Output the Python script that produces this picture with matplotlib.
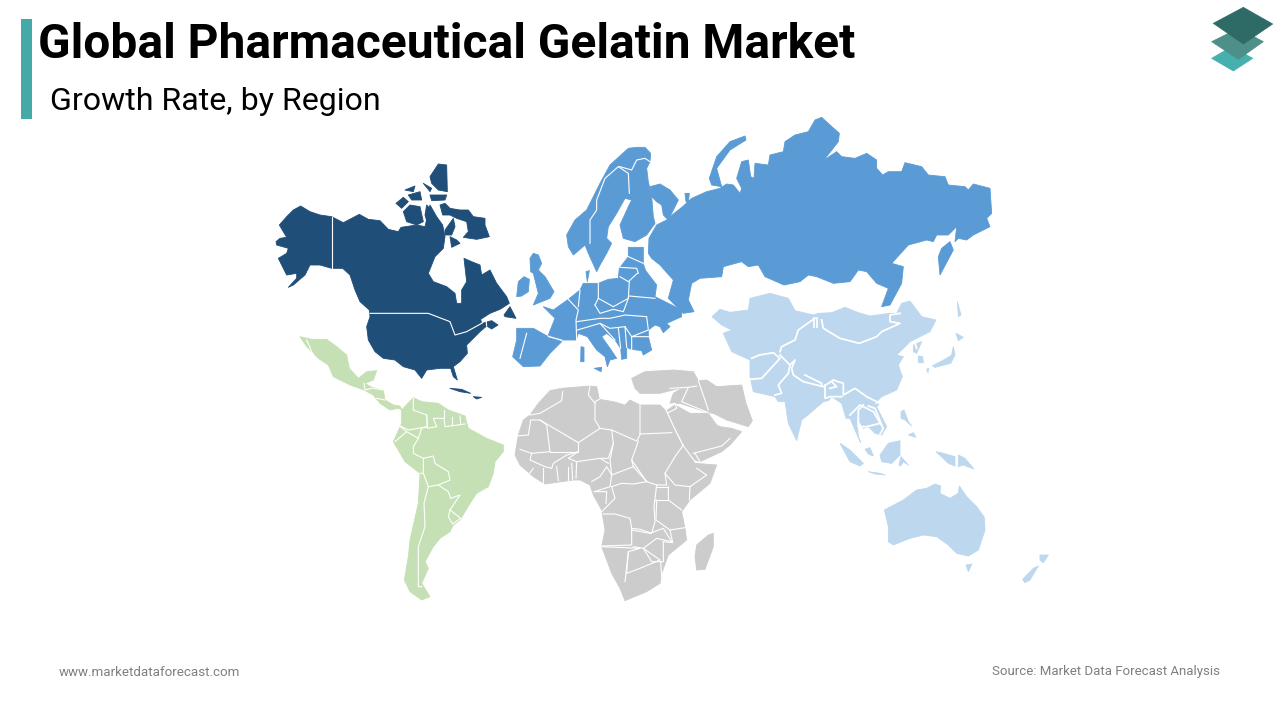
import matplotlib
matplotlib.use("Agg")
import matplotlib.pyplot as plt
from matplotlib.patches import Polygon, Rectangle

NA_ORIGIN = (260, 150)
EU_ORIGIN = (500, 110)
AS_ORIGIN = (700, 280)
AF_ORIGIN = (500, 360)
SA_ORIGIN = (290, 330)
LOGO_ORIGIN = (1200, 0)

# North America
north_america = [
    [(48,275),(60,265),(80,262),(58,225),(80,200),(100,180),(122,168),(150,185),(180,195),(215,200),(250,218),(298,193),(325,208),(360,212),(385,238),(415,245),(423,232),(470,225),(495,230),(510,165),(530,200),(548,225),(555,260),(550,295),(525,320),(505,370),(520,395),(560,410),(585,430),(590,460),(605,460),(605,420),(620,395),(612,325),(635,335),(660,345),(665,375),(690,360),(710,400),(740,440),(748,460),(720,478),(690,490),(662,508),(665,520),(695,512),(714,525),(695,537),(680,528),(660,545),(640,565),(620,585),(622,610),(600,635),(580,650),(592,690),(580,680),(572,655),(540,655),(500,660),(485,685),(465,660),(430,650),(405,630),(370,625),(345,605),(325,570),(320,530),(330,500),(328,480),(300,455),(285,420),(270,375),(248,355),(215,355),(180,345),(150,345),(135,375),(100,405),(85,412),(110,385),(110,370),(80,375),(55,325),(80,310),(85,295),(50,285)],
    [(540,165),(555,160),(570,175),(600,180),(625,180),(640,200),(675,205),(675,225),(688,260),(650,268),(610,262),(625,245),(620,215),(590,205),(570,195),(548,195)],
    [(430,185),(450,165),(480,170),(490,215),(470,225),(440,215)],
    [(408,160),(430,142),(445,155),(425,175)],
    [(510,80),(535,42),(560,45),(562,125),(535,120),(515,100)],
    [(435,120),(465,108),(460,125)],
    [(445,135),(480,125),(485,150),(455,150)],
    [(490,100),(515,115),(510,125)],
    [(510,135),(560,135),(555,150),(515,152)],
    [(500,165),(515,180),(525,225),(505,230),(495,195)],
    [(570,260),(590,270),(600,280),(575,292)],
    [(555,240),(580,205),(585,230),(575,255),(555,255)],
    [(732,495),(750,470),(768,505),(735,500)],
    [(570,715),(605,718),(632,730),(600,725)],
    [(640,740),(665,742),(650,747)],
]
north_america_borders = [
    [(215,200),(215,355)],
    [(330,490),(505,490),(570,515),(585,555),(620,545),(665,520),(678,508),(680,528)],
]

# Europe and Russia
europe = [
    [(200,375),(225,330),(260,300),(300,220),(330,165),(385,115),(410,112),(435,112),(452,130),(450,155),(440,175),(445,215),(455,260),(460,320),(465,340),(440,375),(405,395),(370,385),(360,345),(385,290),(395,270),(375,265),(350,310),(325,350),(320,385),(335,400),(320,430),(300,465),(290,485),(265,430),(255,405),(220,435),(205,410)],
    [(450,230),(480,222),(510,240),(535,270),(525,290),(505,330),(490,315),(485,285),(470,275),(455,260)],
    [(445,430),(447,385),(470,345),(500,330),(520,312),(548,290),(575,265),(620,245),(660,235),(680,222),(700,225),(720,250),(725,235),(710,205),(725,155),(745,150),(752,200),(762,205),(765,160),(805,165),(810,135),(850,125),(855,95),(885,75),(925,65),(945,30),(965,22),(990,45),(1018,70),(1015,95),(972,150),(1010,125),(1025,140),(1065,145),(1100,130),(1130,150),(1130,175),(1148,195),(1165,185),(1205,185),(1215,158),(1265,170),(1285,195),(1335,200),(1345,225),(1395,230),(1405,240),(1420,222),(1470,235),(1475,310),(1460,325),(1470,350),(1420,375),(1400,390),(1375,385),(1365,395),(1370,350),(1345,375),(1310,375),(1300,395),(1280,390),(1225,405),(1175,460),(1210,470),(1205,520),(1170,585),(1145,590),(1165,535),(1130,520),(1100,485),(1075,480),(1050,515),(1000,520),(950,500),(925,495),(900,515),(852,525),(795,500),(775,465),(745,470),(725,455),(670,470),(665,500),(600,505),(575,520),(565,570),(582,605),(550,610),(505,565),(520,510),(480,465),(455,445)],
    [(1315,440),(1320,495),(1360,420),(1350,395),(1325,415)],
    [(628,205),(650,140),(690,95),(735,78),(738,90),(690,120),(650,175),(665,230),(635,225)],
    [(265,520),(295,520),(325,508),(355,505),(358,475),(385,440),(385,412),(430,412),(430,462),(437,482),(470,525),(465,560),(505,580),(545,600),(545,620),(500,640),(510,650),(490,668),(480,650),(465,645),(445,660),(445,680),(455,720),(430,735),(425,722),(395,718),(380,712),(380,745),(365,748),(362,715),(345,690),(320,670),(305,680),(330,715),(350,745),(330,750),(322,770),(315,740),(290,720),(262,680),(235,670),(228,690),(185,690),(145,675),(165,625),(130,590),(160,600),(205,568),(240,540),(250,520)],
    [(38,740),(50,690),(50,655),(100,655),(145,680),(185,695),(150,730),(120,768),(70,770)],
    [(90,445),(100,430),(115,435),(125,460),(115,480),(135,500),(162,545),(150,565),(125,575),(100,585),(115,550),(100,490),(92,485)],
    [(55,515),(72,500),(88,508),(85,545),(65,558),(50,560)],
    [(243,710),(252,712),(252,755),(242,755)],
    [(283,775),(305,772),(303,785)],
    [(258,485),(268,482),(262,515)],
    [(555,250),(568,250),(565,278),(558,275)],
]
europe_borders = [
    [(270,400),(270,330),(290,300),(290,270),(315,205),(355,170)],
    [(355,170),(385,190),(388,250)],
    [(360,170),(395,180),(410,150),(435,145),(450,155)],
    [(80,670),(60,745)],
    [(145,680),(185,690)],
    [(295,520),(295,565),(285,585)],
    [(295,565),(340,590),(385,565),(388,515)],
    [(388,558),(465,565)],
    [(360,500),(385,515),(412,490)],
    [(360,472),(410,475),(415,490)],
    [(385,440),(430,460)],
    [(205,568),(235,600),(228,630),(230,690)],
    [(240,540),(235,590)],
    [(230,635),(300,625),(330,625),(375,615),(440,620),(445,660),(395,680),(445,680)],
    [(285,585),(300,610),(340,598),(370,605),(385,565)],
    [(232,660),(300,640),(330,655),(375,650),(395,680),(395,718)],
    [(300,640),(345,690)],
    [(355,655),(362,715)],
    [(375,650),(380,712)],
]

# Asia and Oceania
asia = [
    [(36,110),(60,88),(90,97),(145,90),(150,55),(210,40),(265,55),(285,92),(340,105),(355,100),(395,98),(435,82),(475,98),(510,108),(570,100),(590,100),(605,70),(630,63),(665,110),(708,120),(690,155),(660,170),(630,185),(590,225),(610,230),(595,255),(607,290),(590,330),(545,350),(520,375),(540,370),(530,380),(560,440),(545,465),(525,460),(505,440),(490,445),(470,410),(475,470),(482,488),(465,450),(450,415),(438,415),(425,370),(395,350),(385,362),(370,365),(330,400),(305,420),(290,482),(265,430),(255,365),(235,365),(225,350),(160,335),(150,290),(150,240),(95,215),(70,160),(95,150),(65,135)],
    [(640,195),(665,185),(650,220),(640,215)],
    [(655,228),(668,230),(670,248),(655,248)],
    [(697,258),(740,235),(755,225),(760,200),(765,225),(752,250),(705,262)],
    [(768,160),(790,172),(775,182)],
    [(772,65),(783,105),(775,110)],
    [(680,268),(686,265),(684,278)],
    [(603,395),(612,390),(625,425),(635,438),(615,420),(603,415)],
    [(625,465),(640,458),(648,472)],
    [(420,490),(450,510),(490,550),(480,558),(450,545)],
    [(505,575),(540,580),(555,585),(525,582)],
    [(540,525),(565,490),(600,482),(600,525),(575,550),(545,545)],
    [(597,555),(603,530),(625,555),(610,545),(602,558)],
    [(495,508),(510,503),(520,528),(505,522)],
    [(708,515),(730,520),(765,530),(765,558),(745,550)],
    [(775,525),(795,535),(822,567),(790,555),(775,560)],
    [(553,690),(610,660),(650,630),(680,625),(705,612),(722,618),(720,640),(750,655),(775,640),(778,618),(800,650),(830,680),(853,712),(855,750),(835,810),(805,828),(770,820),(745,795),(710,770),(670,765),(630,775),(580,795),(565,785),(565,740)],
    [(798,855),(816,852),(805,875)],
    [(1020,825),(1045,825),(1030,848),(1020,840)],
    [(968,898),(1000,865),(1015,858),(990,900),(975,908)],
]
asia_borders = [
    [(240,215),(245,200),(285,180),(295,150),(330,125),(345,115)],
    [(342,115),(342,140)],
    [(352,115),(352,140)],
    [(365,120),(370,145),(420,175),(478,190),(530,170),(545,155),(600,130),(570,125),(570,105),(600,100)],
    [(150,298),(185,295),(240,235),(220,218),(178,225),(155,235)],
    [(240,225),(270,255),(265,280),(235,315),(245,340),(225,345)],
    [(270,255),(285,240),(275,265),(280,285),(310,305),(370,320),(400,300),(430,310),(430,345),(465,325),(500,350),(520,360),(540,370)],
    [(315,285),(365,310),(365,318)],
    [(375,315),(375,355),(390,350),(425,350)],
    [(395,305),(410,320),(390,325)],
    [(450,405),(480,375),(520,395),(550,445),(540,462)],
    [(490,375),(475,390),(475,440),(500,440),(540,430)],
    [(505,378),(525,385),(545,435)],
    [(645,190),(650,205)],
]

# Africa and the Middle East
africa = [
    [(45,285),(55,225),(70,180),(90,165),(115,130),(150,92),(185,85),(270,78),(290,80),(298,118),(340,125),(375,135),(390,120),(420,135),(480,135),(495,150),(520,205),(545,255),(585,310),(650,315),(630,370),(570,420),(545,455),(555,505),(560,540),(505,585),(485,640),(480,670),(440,695),(375,722),(360,685),(335,640),(305,560),(315,510),(305,450),(280,405),(270,375),(240,360),(220,360),(135,372),(100,350),(60,315)],
    [(502,150),(525,135),(570,160),(625,160),(650,195),(660,200),(695,205),(725,215),(690,255),(665,275),(600,305),(585,300),(552,255),(522,195)],
    [(395,55),(435,35),(520,30),(580,35),(595,62),(620,60),(650,80),(725,75),(738,130),(757,182),(745,200),(680,180),(640,160),(625,158),(540,130),(510,130),(520,100),(550,82),(480,100),(420,100),(405,85)],
    [(590,555),(625,525),(640,520),(640,560),(615,628),(590,630),(585,590)],
]
africa_borders = [
    [(90,165),(120,160),(185,122),(188,95)],
    [(120,180),(235,248),(300,205),(285,180),(285,125),(298,118)],
    [(270,78),(265,105),(285,130)],
    [(300,205),(335,210),(410,243),(420,225),(420,135)],
    [(420,222),(515,218)],
    [(50,228),(85,225),(92,180),(120,180),(140,195),(150,275),(95,280),(60,268)],
    [(150,275),(235,275),(235,248)],
    [(235,275),(200,285),(160,310),(155,325),(135,320),(90,300),(95,280)],
    [(235,275),(205,295),(230,305),(300,295),(325,295),(340,250),(335,210)],
    [(340,250),(330,300),(335,345),(400,320),(395,300),(415,243)],
    [(395,300),(440,365)],
    [(400,320),(440,365),(470,375)],
    [(470,375),(500,375),(495,340),(525,290),(550,255)],
    [(495,340),(525,375),(570,380),(620,345),(590,325)],
    [(570,380),(568,420)],
    [(505,380),(505,420),(545,450)],
    [(335,380),(365,370),(400,372),(440,365)],
    [(470,375),(462,440),(465,485),(455,520),(420,508),(395,505),(390,475),(345,462),(310,462)],
    [(335,380),(345,415),(305,455)],
    [(283,395),(320,395),(318,430)],
    [(275,365),(300,350),(320,320),(335,345),(330,380),(283,395)],
    [(230,305),(228,355)],
    [(300,295),(325,310)],
    [(130,325),(130,370)],
    [(170,320),(175,362)],
    [(205,320),(205,360)],
    [(215,310),(218,358)],
    [(100,325),(85,345)],
    [(395,505),(395,555),(305,558)],
    [(395,510),(450,520),(490,505),(515,545),(470,535),(430,565),(400,560)],
    [(305,560),(420,565),(385,575),(375,665)],
    [(385,575),(380,640),(420,625),(480,600),(430,565)],
    [(430,565),(455,605),(490,605),(490,545)],
    [(470,420),(468,480),(510,510),(555,503)],
    [(510,510),(518,548),(490,545)],
    [(482,605),(485,650)],
    [(470,380),(505,380)],
    [(465,420),(505,420)],
    [(580,280),(665,258),(690,235)],
    [(600,305),(585,280)],
    [(510,85),(565,82),(590,78)],
    [(565,82),(545,125),(625,158)],
    [(595,62),(625,150)],
    [(500,135),(525,130),(530,145),(505,158)],
]

# Latin America
latin_america = [
    [(30,20),(65,28),(110,28),(140,50),(170,75),(178,115),(205,145),(230,125),(260,122),(250,150),(225,160),(245,172),(280,180),(285,210),(310,225),(330,228),(335,240),(325,235),(300,240),(270,220),(250,195),(222,180),(180,165),(130,140),(115,105),(85,85),(50,50)],
    [(335,240),(370,203),(395,215),(445,220),(475,240),(525,258),(535,295),(590,325),(640,345),(640,365),(615,395),(610,430),(595,470),(560,490),(540,520),(510,570),(490,585),(480,605),(450,625),(430,650),(405,695),(415,715),(395,760),(420,800),(395,810),(360,785),(343,750),(355,680),(360,630),(385,520),(390,430),(345,395),(310,335),(335,280)],
]
latin_america_borders = [
    [(50,30),(65,65),(85,100)],
    [(222,160),(225,180),(245,175)],
    [(250,175),(280,180)],
    [(260,205),(285,210)],
    [(370,205),(370,240),(410,255),(412,290),(355,300),(325,285)],
    [(325,285),(350,305),(315,335)],
    [(350,305),(385,325),(395,295),(412,290)],
    [(385,325),(370,350),(370,370),(400,385),(400,430),(390,430)],
    [(400,385),(430,378),(435,400),(475,425),(480,450),(445,465),(415,470),(400,430)],
    [(445,465),(475,485),(482,505),(510,495),(480,540)],
    [(480,540),(512,565),(488,582),(475,560),(480,540)],
    [(415,470),(402,520),(405,590),(385,650),(385,770),(395,770)],
    [(410,255),(412,295),(440,290),(430,265),(462,265),(465,290),(525,282)],
    [(462,240),(462,265)],
    [(485,262),(485,285)],
    [(510,258),(512,283)],
]

logo_layers = [
    ([(35,175),(95,140),(158,175),(100,213)], "#45B0AD"),
    ([(35,125),(115,85),(190,125),(115,178)], "#4E8F8A"),
    ([(40,70),(130,22),(218,72),(130,132)], "#2F6B66"),
]

title = "Global Pharmaceutical Gelatin Market"
subtitle = "Growth Rate, by Region"
site = "www.marketdataforecast.com"
source = "Source: Market Data Forecast Analysis"


def crop(points, origin):
    return [(origin[0] + x / 3, origin[1] + y / 3) for x, y in points]


def draw_region(ax, shapes, borders, origin, color, border_width=0.8):
    for shape in shapes:
        ax.add_patch(Polygon(crop(shape, origin), closed=True, facecolor=color, edgecolor=color, linewidth=0.6, joinstyle="round"))
    for line in borders:
        xs, ys = zip(*crop(line, origin))
        ax.plot(xs, ys, color="white", linewidth=border_width, solid_joinstyle="round")


plt.rcParams["font.family"] = "Roboto"
fig = plt.figure(figsize=(12.8, 7.2), dpi=100)
ax = fig.add_axes([0, 0, 1, 1])
ax.set_xlim(0, 1280)
ax.set_ylim(720, 0)
ax.axis("off")

ax.add_patch(Rectangle((21, 19), 11, 100, facecolor="#45A9A8", edgecolor="none"))
ax.text(38.5, 45, title, fontsize=34.5, fontweight="bold", color="black", va="center", ha="left")
ax.text(50, 101, subtitle, fontsize=23.1, color="black", va="center", ha="left")

for layer, color in logo_layers:
    ax.add_patch(Polygon(crop(layer, LOGO_ORIGIN), closed=True, facecolor=color, edgecolor=color, linewidth=0.5, joinstyle="round"))

draw_region(ax, north_america, north_america_borders, NA_ORIGIN, "#1F4E79")
draw_region(ax, europe, europe_borders, EU_ORIGIN, "#5B9BD5")
draw_region(ax, asia, asia_borders, AS_ORIGIN, "#BDD7EE", border_width=1.3)
draw_region(ax, africa, africa_borders, AF_ORIGIN, "#CDCCCC")
draw_region(ax, latin_america, latin_america_borders, SA_ORIGIN, "#C5E0B4")

ax.text(59, 672, site, fontsize=9.6, color="#7F7F7F", va="center", ha="left")
ax.text(1220, 672, source, fontsize=9.55, color="#7F7F7F", va="center", ha="right")

fig.savefig("out.png", dpi=100)
